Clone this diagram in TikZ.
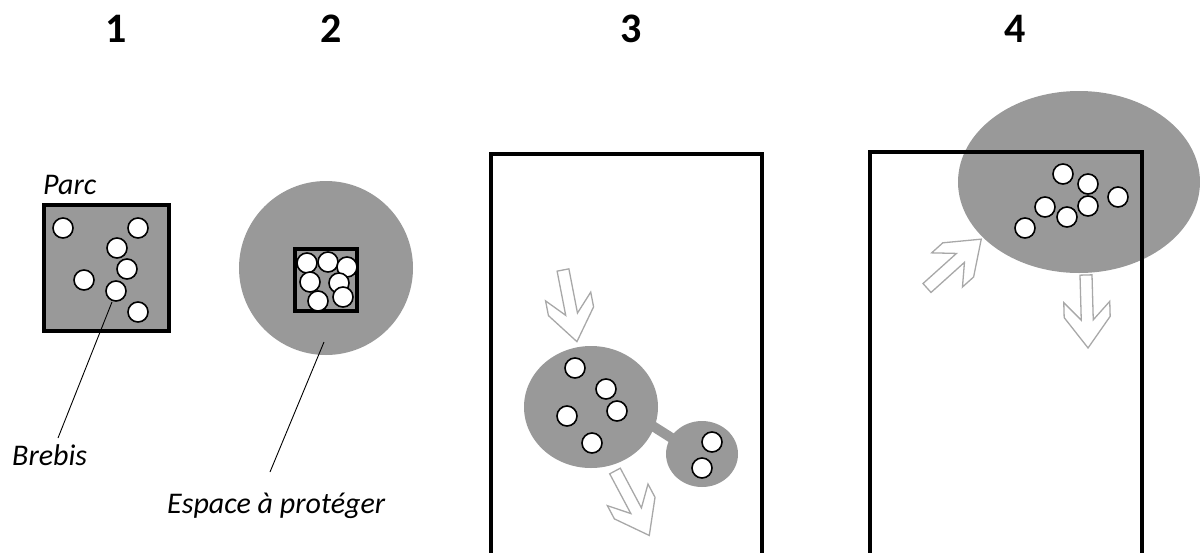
\documentclass[tikz,border=0pt]{standalone}
\usepackage{fontspec}
\setmainfont{Carlito}
\definecolor{zone}{HTML}{999999}
\definecolor{arrowgray}{HTML}{A8A8A8}
\newcommand\sheepat[1]{\draw[sheepst] #1 circle[radius=10];}
\newcommand\hollowarrow[2]{\draw[arrowst,shift={#1},rotate=#2] (0,-6) -- (45,-6) -- (27,-23) -- (42,-23) -- (73,0) -- (42,23) -- (27,23) -- (45,6) -- (0,6) -- cycle;}
\begin{document}
\begin{tikzpicture}[x=1pt,y=-1pt,
  sheepst/.style={draw=black,fill=white,line width=1.6pt},
  parcst/.style={draw=black,fill=zone,line width=3.5pt},
  fieldst/.style={draw=black,line width=3.2pt},
  zonest/.style={fill=zone},
  arrowst/.style={draw=arrowgray,fill=white,line width=1.3pt,line join=miter},
  numst/.style={font=\fontsize{42}{46}\selectfont\bfseries,anchor=base,inner sep=0pt},
  labst/.style={font=\fontsize{30}{34}\selectfont\itshape,anchor=base west,inner sep=0pt},
  leader/.style={draw=black,line width=0.9pt}]
\useasboundingbox (0,0) rectangle (1200,552);
\clip (0,0) rectangle (1200,552);
% numbers
\node[numst] (n1) at (116,42) {1};
\node[numst] (n2) at (331,42) {2};
\node[numst] (n3) at (631,42) {3};
\node[numst] (n4) at (1015,42) {4};
% panel 1
\draw[parcst] (44,205) rectangle (169,331);
\foreach \p in {(63,228),(138,228),(117,248),(127,269),(84,280),(116,291),(138,312)} {\sheepat{\p}}
\node[labst] (parc) at (43,194) {Parc};
\node[labst] (brebis) at (12,465) {Brebis};
\coordinate (b1) at (112,302);
\coordinate (b2) at (58,438);
\draw[leader] (b1) -- (b2);
% panel 2
\fill[zonest] (326,268) circle[radius=87];
\draw[parcst] (295,249) rectangle (357,311);
\foreach \p in {(307,263),(328,262),(347,267),(310,282),(339,283),(318,301),(343,297)} {\sheepat{\p}}
\node[labst] (espace) at (167,513) {Espace à protéger};
\coordinate (e1) at (324,342);
\coordinate (e2) at (270,472);
\draw[leader] (e1) -- (e2);
% panel 3
\draw[fieldst] (491,570) -- (491,154) -- (762,154) -- (762,570);
\draw[zone,line width=10pt] (648,423) -- (678,442);
\fill[zonest] (591,407) ellipse[x radius=67,y radius=61];
\fill[zonest] (702,454) ellipse[x radius=36,y radius=33];
\foreach \p in {(575,368),(606,389),(617,411),(567,416),(592,443),(712,442),(702,468)} {\sheepat{\p}}
\hollowarrow{(563,270)}{-79}
\hollowarrow{(615,471)}{-62}
% panel 4
\fill[zonest] (1079,182) ellipse[x radius=121,y radius=91];
\draw[fieldst] (870,570) -- (870,152) -- (1142,152) -- (1142,570);
\foreach \p in {(1063,174),(1088,184),(1118,197),(1045,207),(1088,206),(1067,217),(1025,228)} {\sheepat{\p}}
\hollowarrow{(927,288)}{42}
\hollowarrow{(1086,275)}{-88.4}
\end{tikzpicture}
\end{document}
